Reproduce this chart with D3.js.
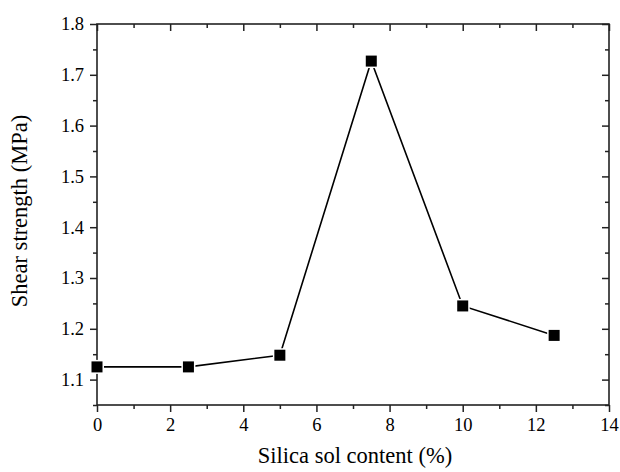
<!DOCTYPE html>
<html>
<head>
<meta charset="utf-8">
<script src="https://cdn.jsdelivr.net/npm/d3@7"></script>
<style>
  body { margin: 0; background: #fff; }
</style>
</head>
<body>
<svg id="chart" width="620" height="472"></svg>
<script>
// data
var silicaContent = [0, 2.5, 5, 7.5, 10, 12.5];
var shearStrength = [1.125, 1.125, 1.148, 1.727, 1.245, 1.187];
var xTicks = [0, 2, 4, 6, 8, 10, 12, 14];
var yTicks = [1.1, 1.2, 1.3, 1.4, 1.5, 1.6, 1.7, 1.8];

var FONT = "'Liberation Serif', 'Times New Roman', Times, serif";

var svg = d3.select("#chart"),
    margin = { left: 97, right: 11, top: 24, bottom: 67 },
    width = 620 - margin.left - margin.right,
    height = 472 - margin.top - margin.bottom;

var x = d3.scaleLinear().domain([0, 14]).range([0, width]);
var y = d3.scaleLinear().domain([1.05, 1.8]).range([height, 0]);

var g = svg.append("g")
    .attr("transform", "translate(" + margin.left + "," + margin.top + ")");

var xMinor = d3.range(1, 14, 2);
var yMinor = d3.range(1.05, 1.8, 0.1).map(function (v) { return +v.toFixed(2); });

function styleAxis(sel) {
    sel.attr("font-family", null).attr("font-size", null);
    sel.select(".domain").remove();
    sel.selectAll("line").attr("stroke", "#222").attr("stroke-width", 1.5);
    sel.selectAll("text")
        .style("font-family", FONT)
        .style("font-size", "18.5px")
        .attr("fill", "#000");
}

// bottom axis, major + minor
g.append("g").attr("transform", "translate(0," + height + ")")
    .call(d3.axisBottom(x).tickValues(xTicks).tickSize(7).tickPadding(6).tickFormat(d3.format("d")))
    .call(styleAxis);
g.append("g").attr("transform", "translate(0," + height + ")")
    .call(d3.axisBottom(x).tickValues(xMinor).tickSize(4).tickFormat(""))
    .call(styleAxis);

// left axis
g.append("g")
    .call(d3.axisLeft(y).tickValues(yTicks).tickSize(7).tickPadding(6).tickFormat(d3.format(".1f")))
    .call(styleAxis);
g.append("g")
    .call(d3.axisLeft(y).tickValues(yMinor).tickSize(4).tickFormat(""))
    .call(styleAxis);

// top axis, ticks inward
g.append("g")
    .call(d3.axisTop(x).tickValues(xTicks).tickSize(-7).tickFormat(""))
    .call(styleAxis);
g.append("g")
    .call(d3.axisTop(x).tickValues(xMinor).tickSize(-4).tickFormat(""))
    .call(styleAxis);

// right axis, ticks inward
g.append("g").attr("transform", "translate(" + width + ",0)")
    .call(d3.axisRight(y).tickValues(yTicks).tickSize(-7).tickFormat(""))
    .call(styleAxis);
g.append("g").attr("transform", "translate(" + width + ",0)")
    .call(d3.axisRight(y).tickValues(yMinor).tickSize(-4).tickFormat(""))
    .call(styleAxis);

// frame
g.append("rect")
    .attr("width", width).attr("height", height)
    .attr("fill", "none").attr("stroke", "#222").attr("stroke-width", 1.6);

var pts = silicaContent.map(function (d, i) { return [d, shearStrength[i]]; });

g.append("path")
    .datum(pts)
    .attr("fill", "none")
    .attr("stroke", "#000")
    .attr("stroke-width", 1.6)
    .attr("d", d3.line().x(function (d) { return x(d[0]); }).y(function (d) { return y(d[1]); }));

var s = 11;
g.selectAll(".pt")
    .data(pts)
    .enter().append("rect")
    .attr("class", "pt")
    .attr("x", function (d) { return x(d[0]) - s / 2; })
    .attr("y", function (d) { return y(d[1]) - s / 2; })
    .attr("width", s).attr("height", s)
    .attr("fill", "#000")
    .attr("stroke", "#fff")
    .attr("stroke-width", 3)
    .attr("paint-order", "stroke");

// axis titles
svg.append("text")
    .attr("x", 355)
    .attr("y", 463)
    .attr("text-anchor", "middle")
    .style("font-family", FONT)
    .style("font-size", "22.5px")
    .text("Silica sol content (%)");

svg.append("text")
    .attr("transform", "translate(27,211) rotate(-90)")
    .attr("text-anchor", "middle")
    .style("font-family", FONT)
    .style("font-size", "22.5px")
    .text("Shear strength (MPa)");
</script>
</body>
</html>
